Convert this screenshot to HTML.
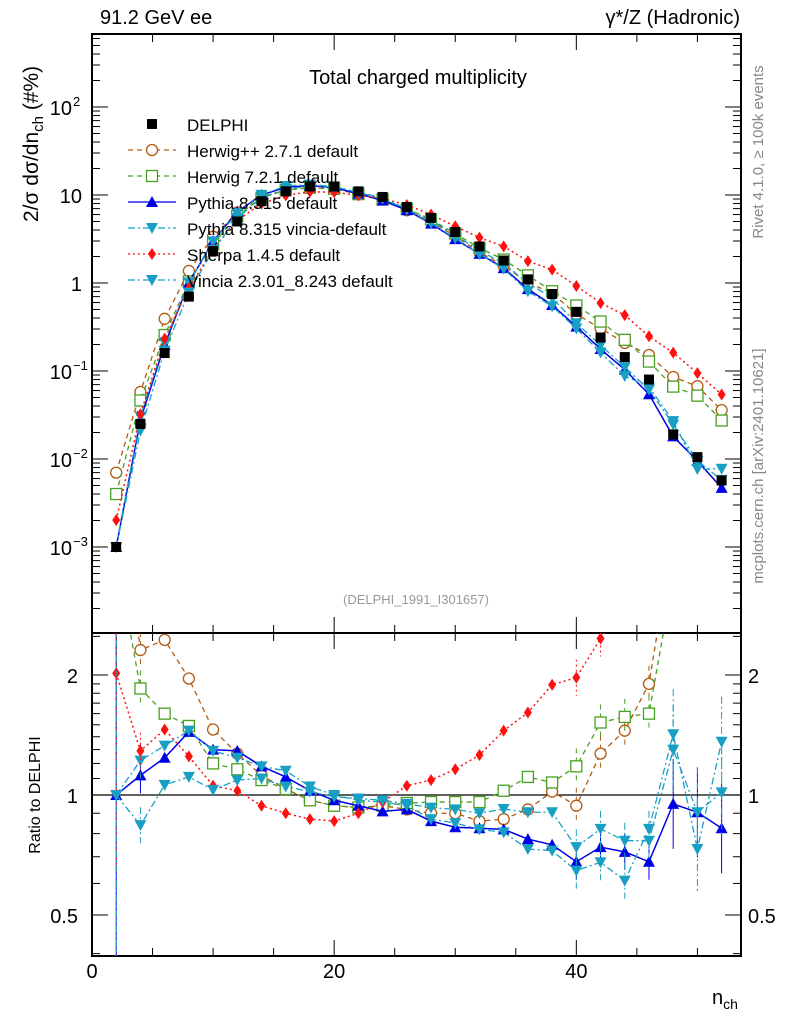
<!DOCTYPE html>
<html><head><meta charset="utf-8">
<style>
body{margin:0;background:#fff;}
svg{display:block;font-family:"Liberation Sans",sans-serif;}
</style></head>
<body>
<svg id="c" width="786" height="1024" xmlns="http://www.w3.org/2000/svg"></svg>
<script>
const nch = [2,4,6,8,10,12,14,16,18,20,22,24,26,28,30,32,34,36,38,40,42,44,46,48,50,52];
const delphi = [0.001,0.025,0.16,0.7,2.3,5,8.5,11,12.5,12.5,11,9.5,7.3,5.5,3.8,2.6,1.8,1.1,0.75,0.47,0.24,0.144,0.08,0.019,0.0105,0.0057];
const rHerwigpp = [7,2.31,2.45,1.96,1.46,1.27,1.12,1.035,0.97,0.94,0.93,0.94,0.92,0.9,0.9,0.86,0.87,0.92,1.02,0.94,1.27,1.45,1.9,4.5,6.4,6.3];
const rHerwig7 = [4,1.85,1.6,1.49,1.2,1.16,1.09,1.035,0.97,0.94,0.93,0.94,0.955,0.96,0.96,0.96,1.025,1.11,1.075,1.18,1.52,1.57,1.6,3.5,5,4.8];
const rPythia = [1,1.12,1.24,1.44,1.3,1.29,1.18,1.11,1.025,0.97,0.94,0.91,0.92,0.86,0.83,0.825,0.82,0.775,0.75,0.68,0.74,0.72,0.68,0.95,0.905,0.825];
const rPyVincia = [1,1.22,1.33,1.45,1.29,1.24,1.18,1.15,1.05,1.0,0.97,0.96,0.94,0.87,0.85,0.82,0.806,0.732,0.725,0.646,0.678,0.61,0.822,1.42,0.732,1.36];
const rSherpa = [2.02,1.29,1.46,1.25,1.055,1.025,0.94,0.9,0.87,0.86,0.9,0.96,1.055,1.09,1.16,1.26,1.45,1.61,1.89,1.97,2.47,3.0,3.1,8.5,9,9.5];
const rVincia = [1,0.84,1.06,1.11,1.03,1.09,1.1,1.05,1.02,0.99,0.98,0.97,0.95,0.93,0.92,0.9,0.922,0.905,0.905,0.74,0.822,0.768,0.768,1.3,0.905,1.015];
const legendLabels = ["DELPHI","Herwig++ 2.7.1 default","Herwig 7.2.1 default","Pythia 8.315 default","Pythia 8.315 vincia-default","Sherpa 1.4.5 default","Vincia 2.3.01_8.243 default"];

const NS="http://www.w3.org/2000/svg";
const svg=document.getElementById('c');
function el(tag,attrs,parent){const e=document.createElementNS(NS,tag);for(const k in attrs)e.setAttribute(k,attrs[k]);(parent||svg).appendChild(e);return e;}
const L=92,R=741,T=34,MB=633,RB=956;
const X=n=>L+(n-0)*(R-L)/53.6;
const YM=v=>283-88*Math.log10(v);
const YR=r=>795-120*Math.log2(r);

const defs=el('defs',{});
const cp1=el('clipPath',{id:'cm'},defs);el('rect',{x:L,y:T,width:R-L,height:MB-T},cp1);
const cp2=el('clipPath',{id:'cr'},defs);el('rect',{x:L,y:MB,width:R-L,height:RB-MB},cp2);

const f1=el('rect',{x:L,y:T,width:R-L,height:MB-T,fill:'none',stroke:'#000','stroke-width':2});

const f2=el('rect',{x:L,y:MB,width:R-L,height:RB-MB,fill:'none',stroke:'#000','stroke-width':2});


for(let n=0;n<=53;n+=5){
  const len=(n%20===0)?16:8,x=X(n);
  for(const [y0,d] of [[T,1],[MB,-1],[MB,1],[RB,-1]]) el('line',{x1:x,x2:x,y1:y0,y2:y0+d*len,stroke:'#000','stroke-width':1});
}
[0,20,40].forEach(n=>{const t=el('text',{x:X(n),y:978,'font-size':20,'text-anchor':'middle'});t.textContent=n;
});
for(let e=-4;e<=2;e++){for(let m=1;m<10;m++){const v=m*Math.pow(10,e);const y=YM(v);if(y<T||y>MB)continue;const len=m===1?16:8;
 el('line',{x1:L,x2:L+len,y1:y,y2:y,stroke:'#000'});el('line',{x1:R,x2:R-len,y1:y,y2:y,stroke:'#000'});}}
const ylab=[[2,'10','2'],[1,'10',''],[0,'1',''],[-1,'10','−1'],[-2,'10','−2'],[-3,'10','−3']];
ylab.forEach(([e,b,s])=>{const t=el('text',{x:s?72:82,y:YM(Math.pow(10,e))+8,'font-size':20,'text-anchor':'end'});t.textContent=b;
 
 if(s){const u=el('text',{x:73,y:YM(Math.pow(10,e))-1,'font-size':13});u.textContent=s;}});
[0.4,0.5,0.6,0.7,0.8,0.9,1,1.1,1.2,1.3,1.4,1.5,1.6,1.7,1.8,1.9,2,2.5].forEach(r=>{const y=YR(r);if(y<MB||y>RB)return;const len=(r===0.5||r===1||r===2)?16:8;
 el('line',{x1:L,x2:L+len,y1:y,y2:y,stroke:'#000'});el('line',{x1:R,x2:R-len,y1:y,y2:y,stroke:'#000'});});
[[2,'2'],[1,'1'],[0.5,'0.5']].forEach(([r,s])=>{
 const a=el('text',{x:78,y:YR(r)+8,'font-size':20,'text-anchor':'end'});a.textContent=s;
 
 const b=el('text',{x:748,y:YR(r)+8,'font-size':20});b.textContent=s;
 });
el('line',{x1:L,x2:R,y1:YR(1),y2:YR(1),stroke:'#000','stroke-width':1.2});

function marker(g,type,x,y,col){
 const s=5;
 if(type==='sq')el('rect',{x:x-s,y:y-s,width:2*s,height:2*s,fill:'#000'},g);
 else if(type==='circ')el('circle',{cx:x,cy:y,r:5.5,fill:'#fff',stroke:col,'stroke-width':1.3},g);
 else if(type==='osq')el('rect',{x:x-5.5,y:y-5.5,width:11,height:11,fill:'#fff',stroke:col,'stroke-width':1.3},g);
 else if(type==='tri')el('polygon',{points:`${x},${y-6} ${x-6},${y+5} ${x+6},${y+5}`,fill:col},g);
 else if(type==='dtri')el('polygon',{points:`${x},${y+6} ${x-6},${y-5} ${x+6},${y-5}`,fill:col},g);
 else if(type==='dia')el('polygon',{points:`${x},${y-6} ${x-4},${y} ${x},${y+6} ${x+4},${y}`,fill:col},g);
}
const series=[
 {name:'herwigpp',r:rHerwigpp,col:'#b05a10',dash:'5,4',m:'circ',w:1.3},
 {name:'herwig7',r:rHerwig7,col:'#48a020',dash:'5,4',m:'osq',w:1.3},
 {name:'pythia',r:rPythia,col:'#0000e8',dash:'',m:'tri',w:1.5},
 {name:'pythia-vincia',r:rPyVincia,col:'#18a0c4',dash:'7,3,2,3',m:'dtri',w:1.3},
 {name:'sherpa',r:rSherpa,col:'#ff1010',dash:'2,3',m:'dia',w:1.5},
 {name:'vincia',r:rVincia,col:'#18a0c4',dash:'7,3,2,3',m:'dtri',w:1.3}
];
series.forEach(s=>{
 const gm=el('g',{'clip-path':'url(#cm)'});
 
 const vals=nch.map((n,i)=>delphi[i]*s.r[i]);
 el('polyline',{points:nch.map((n,i)=>X(n)+','+YM(vals[i])).join(' '),fill:'none',stroke:s.col,'stroke-width':s.w,'stroke-dasharray':s.dash},gm);
 nch.forEach((n,i)=>marker(gm,s.m,X(n),YM(vals[i]),s.col));
 const gr=el('g',{'clip-path':'url(#cr)'});
 
 el('polyline',{points:nch.map((n,i)=>X(n)+','+YR(s.r[i])).join(' '),fill:'none',stroke:s.col,'stroke-width':s.w,'stroke-dasharray':s.dash},gr);
 nch.forEach((n,i)=>{const y=YR(s.r[i]);const e=n===2?200:(n>=48?45:(n>=40||n===4)?18:4);
  el('line',{x1:X(n),x2:X(n),y1:y-e,y2:y+e,stroke:s.col,'stroke-width':1,'stroke-dasharray':s.dash},gr);
  marker(gr,s.m,X(n),y,s.col);});
});
const gd=el('g',{'clip-path':'url(#cm)'});

nch.forEach((n,i)=>marker(gd,'sq',X(n),YM(delphi[i]),'#000'));

const lm=['sq','circ','osq','tri','dtri','dia','dtri'];
const lc=['#000','#b05a10','#48a020','#0000e8','#18a0c4','#ff1010','#18a0c4'];
const ld=['','5,4','5,4','','7,3,2,3','2,3','7,3,2,3'];
legendLabels.forEach((lab,i)=>{
 const y=124+26*i;const g=el('g',{});
 
 if(i>0)el('line',{x1:128,x2:176,y1:y,y2:y,stroke:lc[i],'stroke-width':1.3,'stroke-dasharray':ld[i]},g);
 marker(g,lm[i],152,y,lc[i]);
 const t=el('text',{x:187,y:y+7,'font-size':17},g);t.textContent=lab;
});

function txt(x,y,s,attrs,name){const t=el('text',Object.assign({x:x,y:y},attrs));t.textContent=s;return t;}
txt(100,24,'91.2 GeV ee',{'font-size':20},'energy-label');
txt(740,24,'γ*/Z (Hadronic)',{'font-size':20,'text-anchor':'end'},'process-label');
txt(418,84,'Total charged multiplicity',{'font-size':20,'text-anchor':'middle'},'plot-title');
txt(416,604,'(DELPHI_1991_I301657)',{'font-size':13,'text-anchor':'middle',fill:'#999'},'analysis-id');
txt(0,0,'Rivet 4.1.0, ≥ 100k events',{'font-size':15,fill:'#888','text-anchor':'middle',transform:'translate(763,152) rotate(-90)'},'rivet-label');
txt(0,0,'mcplots.cern.ch [arXiv:2401.10621]',{'font-size':15,fill:'#888','text-anchor':'middle',transform:'translate(763,466) rotate(-90)'},'mcplots-label');
const yl=txt(0,0,'',{'font-size':21,transform:'translate(38,222) rotate(-90)'},'y-axis-title');
yl.innerHTML='2/σ   dσ/dn<tspan font-size="15" dy="5">ch</tspan><tspan dy="-5"> (#%)</tspan>';
txt(0,0,'Ratio to DELPHI',{'font-size':16,'text-anchor':'middle',transform:'translate(40,795) rotate(-90)'},'ratio-axis-title');
const xl=txt(712,1004,'',{'font-size':20},'x-axis-title');
xl.innerHTML='n<tspan font-size="14" dy="5">ch</tspan>';
</script>
</body></html>
